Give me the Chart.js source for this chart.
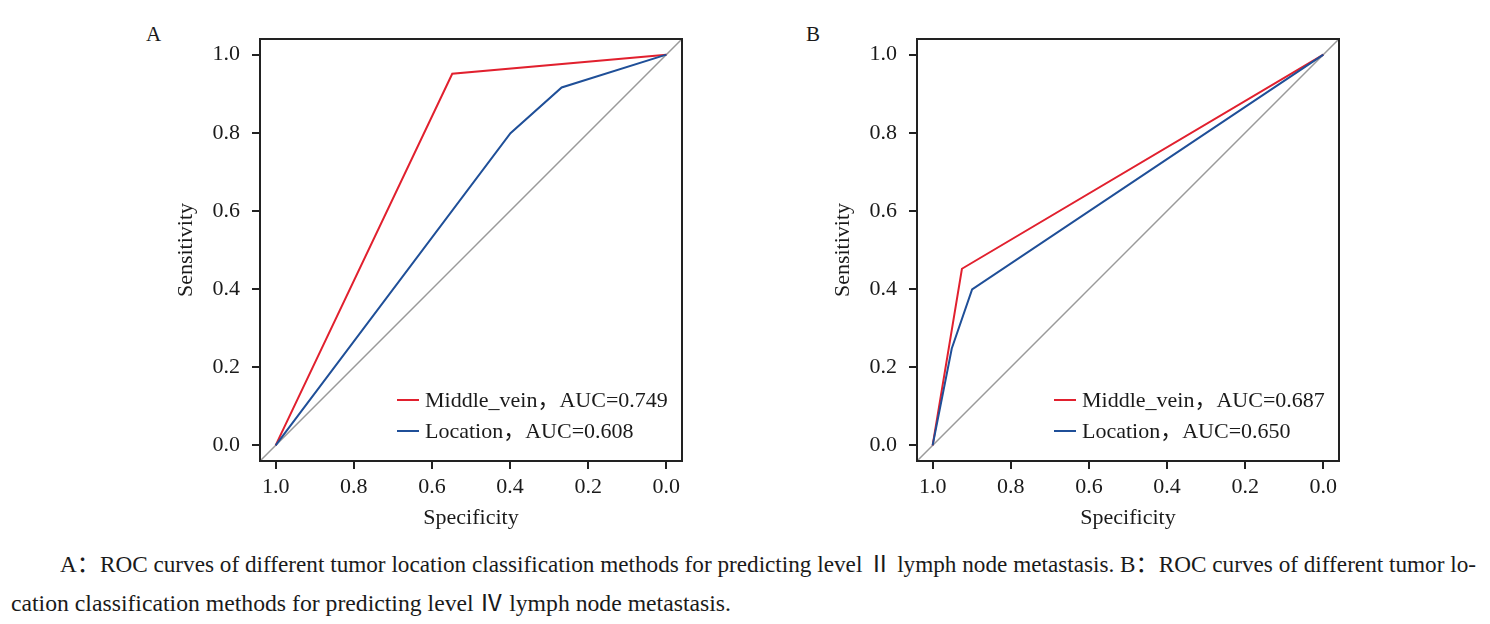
<!DOCTYPE html>
<html><head><meta charset="utf-8">
<script src="https://cdn.jsdelivr.net/npm/chart.js@4/dist/chart.umd.min.js"></script>
<style>
html,body{margin:0;padding:0;background:#fff;width:1490px;height:624px;overflow:hidden;position:relative;font-family:"Liberation Serif","Times New Roman","Noto Sans CJK SC",serif;color:#1a1a1a;}
.box{position:absolute;top:0;width:530px;height:540px;}
.plabel{position:absolute;font-size:21px;line-height:20px;}
.cap{position:absolute;white-space:nowrap;font-size:23px;line-height:30px;transform-origin:0 50%;}
</style></head><body>
<div class="plabel" style="left:146px;top:24px">A</div>
<div class="plabel" style="left:806px;top:24px">B</div>
<div class="box" style="left:170px"><canvas id="cA" width="530" height="540"></canvas></div>
<div class="box" style="left:827px"><canvas id="cB" width="530" height="540"></canvas></div>
<div class="cap" id="cap1" data-w="1416" style="left:60px;top:550px">A：ROC curves of different tumor location classification methods for predicting level Ⅱ lymph node metastasis. B：ROC curves of different tumor lo-</div>
<div class="cap" id="cap2" data-w="720" style="left:11px;top:589px">cation classification methods for predicting level Ⅳ lymph node metastasis.</div>
<script>
// ---- data ----
const tickValues = [0, 0.2, 0.4, 0.6, 0.8, 1.0];
const axisMin = -0.04;
const axisMax = 1.04;
const refSpec = [1.04, -0.04];
const refSens = [-0.04, 1.04];
const seriesNames = ['Middle_vein', 'Location'];
const aucA = ['0.749', '0.608'];
const aucB = ['0.687', '0.650'];
// Panel A
const aMiddleSpec = [1, 0.548, 0];
const aMiddleSens = [0, 0.951, 1];
const aLocationSpec = [1, 0.399, 0.268, 0];
const aLocationSens = [0, 0.799, 0.916, 1];
// Panel B
const bMiddleSpec = [1, 0.925, 0];
const bMiddleSens = [0, 0.452, 1];
const bLocationSpec = [1, 0.951, 0.899, 0];
const bLocationSens = [0, 0.248, 0.399, 1];

const RED = '#e1202e';
const BLUE = '#1f4f98';
const GRAY = '#9a9a9a';
const INK = '#1a1a1a';
const FONT = '"Liberation Serif", "Times New Roman", "Noto Sans CJK SC", serif';

function pts(xs, ys) { return xs.map((x, i) => ({x: x, y: ys[i]})); }

const framePlugin = {
  id: 'frame',
  afterDatasetsDraw(chart) {
    const {ctx, chartArea: a} = chart;
    ctx.save();
    ctx.strokeStyle = '#222';
    ctx.lineWidth = 2;
    ctx.strokeRect(a.left, a.top, a.right - a.left, a.bottom - a.top);
    ctx.restore();
  }
};

const insideLegend = {
  id: 'insideLegend',
  afterDraw(chart) {
    const {ctx, chartArea: a} = chart;
    const items = chart.data.datasets.filter(d => d.showInLegend);
    ctx.save();
    ctx.font = '22px ' + FONT;
    ctx.textBaseline = 'middle';
    ctx.textAlign = 'left';
    items.forEach((d, i) => {
      const y = a.bottom - 61 + i * 31;
      ctx.strokeStyle = d.borderColor;
      ctx.lineWidth = 2;
      ctx.beginPath();
      ctx.moveTo(a.right - 285, y);
      ctx.lineTo(a.right - 263, y);
      ctx.stroke();
      ctx.fillStyle = INK;
      ctx.fillText(d.label, a.right - 257, y + 1);
    });
    ctx.restore();
  }
};

function makeChart(id, midSpec, midSens, locSpec, locSens, aucs) {
  const tickOpts = {
    color: INK,
    font: {family: FONT, size: 22},
    callback: v => Number(v).toFixed(1)
  };
  const gridOpts = {drawOnChartArea: false, drawTicks: true, tickLength: 8, color: '#222', lineWidth: 2};
  return new Chart(document.getElementById(id), {
    type: 'scatter',
    data: {
      datasets: [
        {label: 'ref', data: pts(refSpec, refSens), showLine: true, borderColor: GRAY, borderWidth: 1.5, pointRadius: 0, order: 3},
        {label: seriesNames[0] + '，AUC=' + aucs[0], data: pts(midSpec, midSens), showLine: true, borderColor: RED, borderWidth: 2, pointRadius: 0, order: 2, showInLegend: true},
        {label: seriesNames[1] + '，AUC=' + aucs[1], data: pts(locSpec, locSens), showLine: true, borderColor: BLUE, borderWidth: 2, pointRadius: 0, order: 1, showInLegend: true}
      ]
    },
    options: {
      responsive: false,
      animation: false,
      layout: {padding: {top: 39, right: 18, bottom: 8, left: 0}},
      plugins: {legend: {display: false}, tooltip: {enabled: false}},
      scales: {
        x: {
          type: 'linear', position: 'bottom', reverse: true, min: axisMin, max: axisMax,
          afterBuildTicks: s => { s.ticks = tickValues.map(v => ({value: v})); },
          afterFit: s => { s.height = 71; },
          ticks: Object.assign({padding: 5, maxRotation: 0}, tickOpts),
          grid: gridOpts,
          border: {display: false},
          title: {display: true, text: 'Specificity', color: INK, font: {family: FONT, size: 22}, padding: {top: 0, bottom: 1}}
        },
        y: {
          type: 'linear', position: 'left', min: axisMin, max: axisMax,
          afterBuildTicks: s => { s.ticks = tickValues.map(v => ({value: v})); },
          afterFit: s => { s.width = 90; },
          ticks: Object.assign({padding: 12}, tickOpts),
          grid: gridOpts,
          border: {display: false},
          title: {display: true, text: 'Sensitivity', color: INK, font: {family: FONT, size: 22}, padding: {top: 3, bottom: 0}}
        }
      }
    },
    plugins: [framePlugin, insideLegend]
  });
}

makeChart('cA', aMiddleSpec, aMiddleSens, aLocationSpec, aLocationSens, aucA);
makeChart('cB', bMiddleSpec, bMiddleSens, bLocationSpec, bLocationSens, aucB);

function fitCaptions() {
  document.querySelectorAll('.cap').forEach(el => {
    el.style.transform = 'none';
    const w = el.getBoundingClientRect().width;
    const target = Number(el.dataset.w);
    el.style.transform = 'scaleX(' + (target / w) + ')';
  });
}
fitCaptions();
if (document.fonts && document.fonts.ready) document.fonts.ready.then(fitCaptions);
</script>
</body></html>
